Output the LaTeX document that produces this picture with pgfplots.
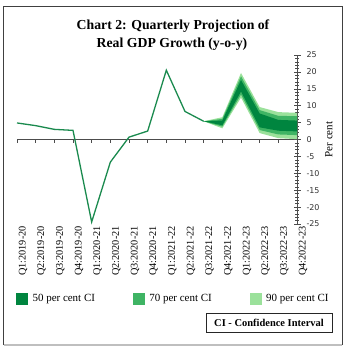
\documentclass[border=0pt]{standalone}
\usepackage{fontspec}
\setmainfont{Liberation Serif}
\newfontfamily\dejavu{DejaVu Sans}
\usepackage{pgfplots}
\pgfplotsset{compat=1.18}
\definecolor{lineg}{RGB}{26,138,78}
\definecolor{c50}{RGB}{0,133,63}
\definecolor{c70}{RGB}{63,180,100}
\definecolor{c90}{RGB}{155,225,155}
\begin{document}
\begin{tikzpicture}
\path (0bp,0bp) rectangle (348bp,-353bp);
\draw[line width=1bp, black!75] (3.5bp,-345bp) -- (3.5bp,-6bp) -- (342bp,-6bp) -- (342bp,-345bp);
\draw[line width=1.5bp, black!25] (3.5bp,-345bp) -- (342bp,-345bp);
\node[anchor=base, font=\bfseries\fontsize{13.8}{16}\selectfont] at (173bp,-29bp) {Chart 2: Quarterly Projection of};
\node[anchor=base, font=\bfseries\fontsize{13.8}{16}\selectfont] at (172bp,-47bp) {Real GDP Growth (y-o-y)};
\node[draw=black!85, line width=0.8bp, minimum width=126bp, minimum height=19bp, inner sep=0pt,
      font=\bfseries\fontsize{10.5}{12}\selectfont] at (269bp,-322.5bp) {CI - Confidence Interval};
\begin{axis}[
  at={(17bp,-224bp)}, anchor=south west, scale only axis,
  width=280bp, height=169bp,
  xmin=0, xmax=15, ymin=-25, ymax=25,
  clip=false,
  axis y line*=right, axis x line*=bottom,
  x axis line style={draw=none},
  y axis line style={black!70, line width=0.6bp},
  xtick={0,...,15},
  xticklabels={Q1:2019-20,Q2:2019-20,Q3:2019-20,Q4:2019-20,Q1:2020-21,Q2:2020-21,Q3:2020-21,Q4:2020-21,Q1:2021-22,Q2:2021-22,Q3:2021-22,Q4:2021-22,Q1:2022-23,Q2:2022-23,Q3:2022-23,Q4:2022-23},
  major x tick style={draw=none},
  xticklabel style={rotate=90, anchor=east, font=\fontsize{10.3}{10}\selectfont, inner sep=0pt, xshift=1.5bp, yshift=-6bp},
  ytick={-25,-20,...,25},
  minor y tick num=4,
  tick align=center,
  major tick length=7bp,
  minor tick length=3.5bp,
  y tick style={black!70, line width=0.5bp},
  yticklabel style={font=\dejavu\fontsize{8}{8}\selectfont, text=black!80, xshift=2.5bp},
  /pgf/number format/assume math mode=true,
  extra y ticks={0}, extra y tick labels={},
  extra y tick style={grid=major, major grid style={black!70, line width=0.6bp}},
  ylabel={Per cent},
  every axis y label/.style={at={(axis description cs:1.114,0.5)}, rotate=90, anchor=center, font=\fontsize{11}{11}\selectfont},
  legend columns=3,
  legend style={at={(axis description cs:-0.0036,-0.44)}, anchor=west, draw=none, fill=none,
    font=\fontsize{11}{11}\selectfont, inner sep=0pt, nodes={inner sep=0pt},
    /tikz/every odd column/.append style={column sep=5bp},
    /tikz/every even column/.append style={column sep=38bp}},
]
\pgfplotsinvokeforeach{0,...,15}{\draw[black!70, line width=0.6bp] (axis cs:#1,0) -- ++(0bp,-3.5bp);}
\addplot[fill=c90, draw=none, forget plot] coordinates {(10,5.4) (11,6.6) (12,19.7) (13,9.6) (14,8.1) (15,7.9) (15,0.1) (14,0.4) (13,1.9) (12,12.4) (11,3.3)} -- cycle;
\addplot[fill=c70, draw=none, forget plot] coordinates {(10,5.4) (11,6.1) (12,18.7) (13,8.7) (14,7.0) (15,6.9) (15,1.3) (14,1.5) (13,2.8) (12,13.3) (11,3.8)} -- cycle;
\addplot[fill=c50, draw=none, forget plot] coordinates {(10,5.4) (11,5.6) (12,17.6) (13,7.7) (14,5.8) (15,5.6) (15,2.4) (14,2.6) (13,3.6) (12,14.2) (11,4.2)} -- cycle;
\addplot[lineg, line width=1.3bp, forget plot] coordinates {(0,4.9) (1,4.1) (2,3.0) (3,2.7) (4,-24.4) (5,-6.7) (6,0.7) (7,2.5) (8,20.5) (9,8.3) (10,5.4)};
\addlegendimage{legend image code/.code={\fill[c50] (0bp,-5.5bp) rectangle (11bp,5.5bp);}}
\addlegendentry{50 per cent CI}
\addlegendimage{legend image code/.code={\fill[c70] (0bp,-5.5bp) rectangle (11bp,5.5bp);}}
\addlegendentry{70 per cent CI}
\addlegendimage{legend image code/.code={\fill[c90] (0bp,-5.5bp) rectangle (11bp,5.5bp);}}
\addlegendentry{90 per cent CI}
\end{axis}
\end{tikzpicture}
\end{document}
